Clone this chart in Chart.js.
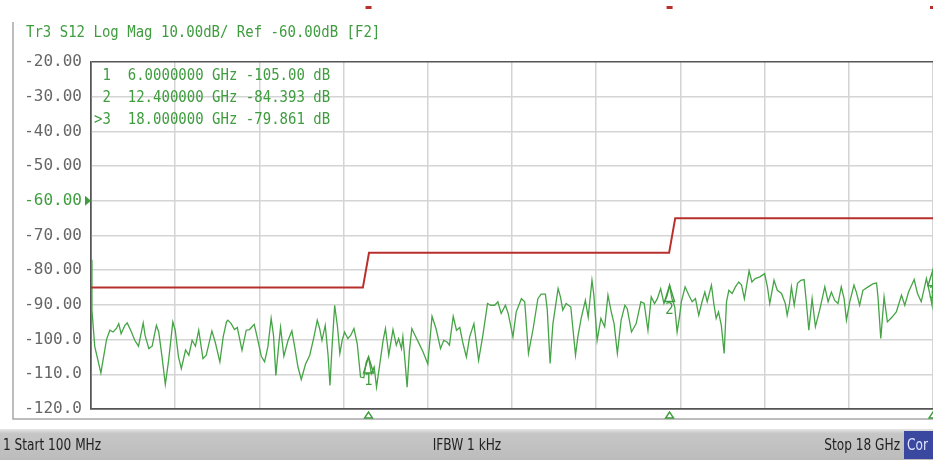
<!DOCTYPE html>
<html>
<head>
<meta charset="utf-8">
<script src="https://cdn.jsdelivr.net/npm/chart.js@4.4.1/dist/chart.umd.min.js"></script>
<style>
  html, body { margin: 0; padding: 0; background: #fff; }
  #wrap { width: 933px; height: 460px; position: relative; }
</style>
</head>
<body>
<div id="wrap"><canvas id="vna"></canvas></div>
<script>
// S12 trace (GHz / dB)
const traceFreq = [
  0.10,0.12,0.18,0.31,0.43,0.50,0.57,0.64,0.69,0.74,0.82,0.87,0.96,1.03,1.11,1.21,1.25,1.33,1.40,1.49,
  1.54,1.61,1.68,1.75,1.84,1.89,1.96,2.02,2.11,2.18,2.25,2.32,2.39,2.48,2.55,2.67,2.74,2.84,2.91,2.98,
  3.01,3.08,3.15,3.21,3.31,3.40,3.47,3.57,3.64,3.72,3.79,3.86,3.93,3.98,4.03,4.09,4.13,4.20,4.29,4.37,
  4.43,4.50,4.57,4.66,4.75,4.84,4.91,4.96,5.01,5.08,5.14,5.18,5.22,5.28,5.34,5.39,5.44,5.49,5.56,5.62,
  5.69,5.76,5.83,5.90,5.95,
  6.00,6.06,6.12,6.17,6.24,6.31,6.36,6.43,6.52,6.59,6.64,6.70,6.73,6.78,6.82,6.87,6.92,6.99,7.09,7.16,
  7.26,7.35,7.44,7.53,7.60,7.67,7.72,7.80,7.87,7.94,8.01,8.08,8.15,8.24,8.34,8.43,8.53,8.60,8.68,8.75,
  8.82,8.91,
  8.97,9.07,9.14,9.25,9.32,9.40,9.50,9.60,9.67,9.76,9.80,9.86,9.92,10.03,10.08,10.13,10.20,10.30,10.40,10.45,
  10.52,10.61,10.67,10.75,10.79,10.86,10.94,11.02,11.09,11.16,11.22,11.29,11.37,11.45,11.50,11.59,11.69,11.79,11.86,
  11.94,12.01,12.08,12.14,12.21,12.28,12.35,12.40,12.45,12.51,12.56,12.61,12.65,12.73,12.81,12.88,12.95,13.02,13.09,13.15,
  13.20,13.29,13.34,13.39,13.44,13.50,13.56,13.61,13.66,13.73,13.80,13.87,13.93,13.99,14.09,14.15,14.22,14.32,14.42,14.48,
  14.53,14.62,14.69,14.78,14.86,14.90,
  14.95,14.99,15.05,15.12,15.19,15.26,15.31,15.36,15.43,15.50,15.59,15.70,15.77,15.84,15.91,15.98,16.05,16.11,16.16,16.23,
  16.32,16.37,16.44,16.51,16.62,16.73,16.80,16.83,16.89,16.96,17.03,17.13,17.22,17.33,17.40,17.48,17.60,17.67,17.75,17.86,
  17.93,17.98,18.00
];
const traceDb = [
  -77.0,-91.5,-102.0,-109.6,-100.0,-97.3,-97.8,-96.8,-95.4,-98.3,-95.9,-95.2,-97.8,-100.2,-101.9,-95.2,-98.8,-102.6,-101.9,-95.9,
  -97.8,-105.0,-112.9,-106.0,-94.9,-97.3,-105.0,-108.4,-103.0,-104.5,-100.2,-101.9,-97.3,-105.5,-104.5,-97.5,-100.7,-106.4,-99.2,-94.9,
  -94.4,-95.4,-97.1,-96.5,-103.1,-97.3,-97.1,-95.6,-99.7,-104.8,-106.4,-102.1,-93.9,-98.8,-110.3,-101.6,-96.5,-104.8,-100.2,-97.5,
  -102.1,-107.9,-111.5,-107.1,-104.5,-99.2,-94.4,-96.8,-100.2,-95.9,-104.5,-113.2,-103.1,-90.1,-96.3,-104.0,-100.2,-97.8,-99.7,-98.8,
  -96.8,-101.2,-110.8,-111.0,-106.5,
  -105.0,-109.8,-107.9,-113.7,-107.0,-100.2,-96.8,-104.5,-97.1,-101.6,-99.7,-102.6,-99.2,-107.0,-113.7,-103.1,-96.8,-98.8,-101.6,-103.6,
  -107.0,-93.3,-97.1,-102.6,-100.2,-100.7,-101.6,-93.3,-97.3,-96.5,-101.2,-105.0,-99.2,-95.4,-106.0,-98.8,-89.6,-90.1,-90.1,-89.1,
  -92.5,-90.1,
  -92.5,-99.2,-92.0,-88.2,-89.1,-104.0,-96.8,-88.2,-86.9,-86.9,-91.5,-106.9,-95.4,-85.3,-87.7,-91.5,-89.6,-90.6,-104.5,-99.2,
  -93.9,-88.7,-93.5,-82.9,-87.2,-100.2,-93.9,-96.3,-87.2,-92.0,-95.4,-104.0,-94.4,-90.1,-91.1,-97.8,-95.4,-89.1,-89.6,
  -97.3,-87.7,-89.6,-88.2,-85.3,-89.6,-87.2,-84.4,-88.2,-90.6,-97.8,-93.5,-89.1,-84.8,-87.2,-89.1,-88.2,-93.0,-89.1,-86.3,
  -89.1,-84.3,-89.6,-93.9,-92.0,-95.9,-104.0,-89.1,-85.8,-86.7,-84.8,-83.4,-84.3,-88.2,-80.2,-83.4,-82.4,-81.9,-81.0,-84.8,
  -89.6,-82.9,-85.8,-86.7,-89.6,-93.0,
  -89.6,-84.8,-90.1,-83.8,-82.9,-82.7,-89.6,-97.3,-88.2,-96.3,-91.5,-84.8,-89.1,-86.3,-88.7,-89.6,-84.8,-88.2,-94.4,-89.1,
  -84.3,-86.3,-90.1,-85.8,-84.8,-83.9,-83.7,-87.7,-99.7,-87.7,-94.9,-93.5,-92.0,-87.2,-90.1,-86.3,-82.7,-86.7,-89.1,-82.4,
  -86.7,-90.1,-79.9
];

// limit line
const limitFreq = [0.1, 5.88, 6.01, 12.39, 12.52, 18.0];
const limitDb = [-85, -85, -75, -75, -65, -65];

// markers
const markerNum = ["1", "2", "3"];
const markerFreq = [6.0, 12.4, 18.0];
const markerDb = [-105.0, -84.393, -79.861];
const markerRows = [
  " 1  6.0000000 GHz -105.00 dB",
  " 2  12.400000 GHz -84.393 dB",
  ">3  18.000000 GHz -79.861 dB"
];

const titleText = "Tr3 S12 Log Mag 10.00dB/ Ref -60.00dB [F2]";
const refLevel = -60;
const startGHz = 0.1, stopGHz = 18.0, divGHz = 1.79;
const statusLeft = "1 Start 100 MHz";
const statusMid = "IFBW 1 kHz";
const statusRight = "Stop 18 GHz";
const statusCor = "Cor";

const GREEN = "#3f9c3f";
const TRACE = "#45a445";
const RED = "#b8302c";
const MONO = '"DejaVu Sans Mono", "Liberation Mono", monospace';
const NARROW = '"Liberation Sans Narrow", "DejaVu Sans Condensed", "Liberation Sans", sans-serif';

// draw text a bit narrower than the font, like the analyser's screen font
function squeezed(c, text, x, y, sx) {
  c.save();
  c.translate(x, y);
  c.scale(sx, 1);
  c.fillText(text, 0, 0);
  c.restore();
}

const screenPlugin = {
  id: "screen",
  beforeDraw(chart) {
    const c = chart.ctx;
    c.save();
    c.fillStyle = "#fff";
    c.fillRect(0, 0, chart.width, chart.height);
    // frame
    c.strokeStyle = "#a8a8a8";
    c.lineWidth = 1.5;
    c.beginPath();
    c.moveTo(13, 22); c.lineTo(13, 419); c.lineTo(933, 419);
    c.stroke();
    // status bar
    const g = c.createLinearGradient(0, 429, 0, 460);
    g.addColorStop(0, "#e6e6e6");
    g.addColorStop(0.15, "#c6c6c6");
    g.addColorStop(1, "#bcbcbc");
    c.fillStyle = g;
    c.fillRect(0, 429, 933, 31);
    c.fillStyle = "#222";
    c.font = "15px " + NARROW;
    c.textBaseline = "middle";
    c.textAlign = "left";
    squeezed(c, statusLeft, 3, 446, 0.9);
    const wm = c.measureText(statusMid).width * 0.9;
    squeezed(c, statusMid, 467 - wm / 2, 446, 0.9);
    const wr = c.measureText(statusRight).width * 0.9;
    squeezed(c, statusRight, 900 - wr, 446, 0.9);
    c.fillStyle = "#3a48a0";
    c.fillRect(904, 431, 29, 28);
    c.fillStyle = "#dfe3ff";
    squeezed(c, statusCor, 907, 446, 0.9);
    c.restore();
  },
  afterDraw(chart) {
    const c = chart.ctx;
    const xs = chart.scales.x, ys = chart.scales.y;
    c.save();
    // title
    c.fillStyle = GREEN;
    c.font = "15px " + MONO;
    c.textBaseline = "middle";
    c.textAlign = "left";
    squeezed(c, titleText, 26, 33, 0.934);
    // marker table
    markerRows.forEach((r, i) => squeezed(c, r, 94, 76 + i * 22, 0.934));
    // reference level arrow
    const yr = ys.getPixelForValue(refLevel);
    c.beginPath();
    c.moveTo(85, yr - 5); c.lineTo(91, yr); c.lineTo(85, yr + 5);
    c.closePath();
    c.fill();
    // markers on trace and stimulus triangles below
    c.strokeStyle = GREEN;
    c.lineWidth = 1.4;
    c.textAlign = "center";
    c.textBaseline = "top";
    c.font = "15px " + NARROW;
    markerFreq.forEach((f, i) => {
      const x = xs.getPixelForValue(f);
      const y = ys.getPixelForValue(markerDb[i]);
      c.beginPath();
      c.moveTo(x, y); c.lineTo(x - 5, y + 16); c.lineTo(x + 5, y + 16);
      c.closePath();
      c.stroke();
      c.fillText(markerNum[i], x, y + 17);
      const yb = chart.chartArea.bottom;
      c.beginPath();
      c.moveTo(x, yb + 3); c.lineTo(x - 4, yb + 9); c.lineTo(x + 4, yb + 9);
      c.closePath();
      c.stroke();
      // small red tick at top of screen
      c.fillStyle = RED;
      c.fillRect(x - 3, 6, 6, 3);
      c.fillStyle = GREEN;
    });
    c.restore();
  }
};

new Chart(document.getElementById("vna"), {
  type: "line",
  data: {
    datasets: [
      {
        data: limitFreq.map((f, i) => ({ x: f, y: limitDb[i] })),
        borderColor: RED,
        borderWidth: 2,
        pointRadius: 0,
        tension: 0
      },
      {
        data: traceFreq.map((f, i) => ({ x: f, y: traceDb[i] })),
        borderColor: TRACE,
        borderWidth: 1.3,
        pointRadius: 0,
        tension: 0
      }
    ]
  },
  options: {
    responsive: true,
    maintainAspectRatio: false,
    animation: false,
    layout: { padding: { left: 0, top: 62, right: 0, bottom: 51 } },
    plugins: { legend: { display: false }, tooltip: { enabled: false } },
    scales: {
      x: {
        type: "linear",
        min: startGHz,
        max: stopGHz,
        ticks: { display: false, stepSize: divGHz },
        grid: {
          drawTicks: false,
          color: (ctx) => (ctx.index === 0 ? "#555" : "#d4d4d4"),
          lineWidth: 1.5
        },
        border: { display: true, color: "#555", width: 1.5 },
        afterFit: (s) => { s.height = 0; }
      },
      y: {
        min: -120,
        max: -20,
        ticks: {
          stepSize: 10,
          padding: 9,
          font: { family: MONO, size: 16 },
          color: (ctx) => (ctx.tick && ctx.tick.value === refLevel ? GREEN : "#666"),
          callback: (v) => (v > -100 ? v.toFixed(2) : v.toFixed(1))
        },
        grid: {
          drawTicks: false,
          color: (ctx) => (ctx.tick && (ctx.tick.value === -20 || ctx.tick.value === -120) ? "#555" : "#d4d4d4"),
          lineWidth: 1.5
        },
        border: { display: true, color: "#555", width: 1.5 },
        afterFit: (s) => { s.width = 91; }
      }
    }
  },
  plugins: [screenPlugin]
});
</script>
</body>
</html>
